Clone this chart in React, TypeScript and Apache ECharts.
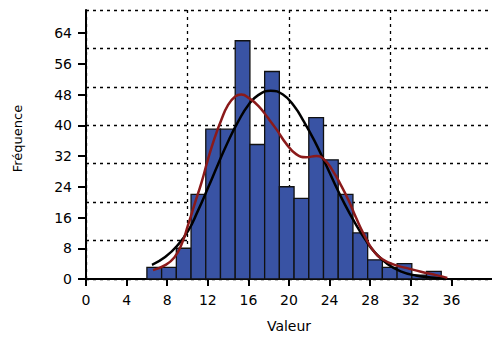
import React, { useEffect, useRef } from "react";
import * as echarts from "echarts";

const xTicks = [0, 4, 8, 12, 16, 20, 24, 28, 32, 36];
const yTicks = [0, 8, 16, 24, 32, 40, 48, 56, 64];

const binEdges = [6.0, 7.45, 8.9, 10.35, 11.8, 13.25, 14.7, 16.15, 17.6, 19.05, 20.5, 21.95, 23.4, 24.85, 26.3, 27.75, 29.2, 30.65, 32.1, 33.55, 35.0];
const counts = [3, 3, 8, 22, 39, 39, 62, 35, 54, 24, 21, 42, 31, 22, 12, 5, 3, 4, 1, 2];

const normalCurve: [number, number][] = [
  [6.5, 3.7], [7.8, 5.7], [9.1, 9.0], [10.1, 12.7], [11.0, 17.6], [12.0, 23.6], [13.0, 29.8],
  [14.0, 35.8], [15.0, 41.0], [16.0, 45.3], [17.0, 47.9], [18.2, 49.0], [19.4, 48.0], [20.5, 45.0],
  [21.5, 40.8], [22.5, 36.0], [23.5, 30.5], [24.5, 24.8], [25.5, 19.4], [26.5, 14.6], [27.5, 10.3],
  [28.5, 6.8], [29.7, 3.9], [31.0, 2.0], [32.5, 0.9], [34.0, 0.4], [35.3, 0.2],
];

const densityCurve: [number, number][] = [
  [6.6, 2.3], [7.8, 3.6], [8.7, 5.6], [9.4, 8.9], [10.05, 14.0], [10.7, 19.5], [11.4, 25.3],
  [12.0, 31.0], [12.7, 36.9], [13.3, 41.2], [14.0, 45.3], [14.7, 47.5], [15.3, 48.0], [16.1, 47.0],
  [17.0, 45.0], [17.9, 42.0], [18.8, 38.8], [19.7, 35.3], [20.7, 32.5], [21.7, 31.7], [22.7, 32.0],
  [23.5, 31.0], [24.3, 28.2], [25.1, 24.5], [25.9, 20.3], [26.6, 16.0], [27.4, 11.5], [28.3, 7.4],
  [29.3, 5.0], [30.5, 3.6], [31.8, 2.7], [33.0, 1.9], [34.5, 1.0], [35.6, 0.3],
];

const FONT = "DejaVu Sans";

export default function App() {
  const ref = useRef<HTMLDivElement>(null);
  useEffect(() => {
    if (!ref.current) return;
    const chart = echarts.init(ref.current, null, { renderer: "svg" });
    const barData = counts.map((c, i) => [binEdges[i], binEdges[i + 1], c]);
    const dashStyle = { color: "#000", type: [3, 4] as any, width: 1.3 };
    chart.setOption({
      animation: false,
      backgroundColor: "#fff",
      grid: { left: 86, right: -1, top: 10, bottom: 58, containLabel: false },
      xAxis: [
        {
          type: "value", min: 0, max: 40, interval: 4,
          axisLine: { show: true, onZero: false, lineStyle: { color: "#000", width: 2 } },
          axisTick: { show: true, length: 7, customValues: xTicks, lineStyle: { color: "#000", width: 2 } },
          axisLabel: { customValues: xTicks, color: "#000", fontFamily: FONT, fontSize: 14, margin: 14 },
          splitLine: { show: false },
          name: "Valeur", nameLocation: "middle", nameGap: 40,
          nameTextStyle: { color: "#000", fontFamily: FONT, fontSize: 14 },
        },
        {
          type: "value", min: 0, max: 40, interval: 10, position: "bottom",
          axisLine: { show: false }, axisTick: { show: false }, axisLabel: { show: false },
          splitLine: { show: true, showMaxLine: false, lineStyle: dashStyle },
        },
      ],
      yAxis: [
        {
          type: "value", min: 0, max: 70, interval: 8,
          axisLine: { show: true, onZero: false, lineStyle: { color: "#000", width: 2 } },
          axisTick: { show: true, length: 8, customValues: yTicks, lineStyle: { color: "#000", width: 2 } },
          axisLabel: { customValues: yTicks, color: "#000", fontFamily: FONT, fontSize: 14, margin: 14 },
          splitLine: { show: false },
          name: "Fréquence", nameLocation: "middle", nameGap: 62,
          nameTextStyle: { color: "#000", fontFamily: FONT, fontSize: 13, padding: [0, 0, 0, 12] },
        },
        {
          type: "value", min: 0, max: 70, interval: 10, position: "left",
          axisLine: { show: false }, axisTick: { show: false }, axisLabel: { show: false },
          splitLine: { show: true, lineStyle: dashStyle },
        },
      ],
      series: [
        {
          type: "custom",
          xAxisIndex: 0, yAxisIndex: 0,
          data: barData,
          encode: { x: [0, 1], y: 2 },
          renderItem: (params: any, api: any) => {
            const p0 = api.coord([api.value(0), 0]);
            const p1 = api.coord([api.value(1), api.value(2)]);
            return {
              type: "rect",
              shape: { x: p0[0], y: p1[1], width: p1[0] - p0[0], height: p0[1] - p1[1] },
              style: { fill: "#3953A4", stroke: "#111", lineWidth: 1.3 },
            };
          },
          z: 2,
        },
        {
          type: "line", xAxisIndex: 0, yAxisIndex: 0, data: normalCurve,
          smooth: 0.5, showSymbol: false,
          lineStyle: { color: "#000", width: 2.5 }, z: 3,
        },
        {
          type: "line", xAxisIndex: 0, yAxisIndex: 0, data: densityCurve,
          smooth: 0.5, showSymbol: false,
          lineStyle: { color: "#8B1A1A", width: 2.5 }, z: 4,
        },
      ],
    });
    return () => chart.dispose();
  }, []);
  return <div ref={ref} style={{ position: "fixed", left: 0, top: 0, width: 492, height: 338 }} />;
}
